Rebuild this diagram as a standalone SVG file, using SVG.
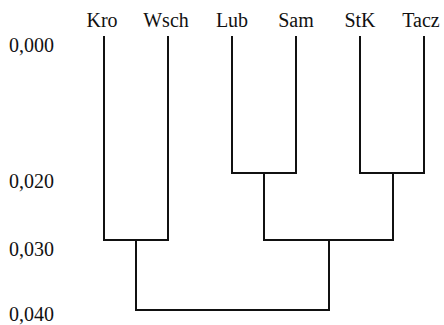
<svg xmlns="http://www.w3.org/2000/svg" width="444" height="325" viewBox="0 0 444 325">
<style>
.t{font-size:20px;fill:#111}
.leaf{text-anchor:middle}
.c{fill:none;stroke:#111;stroke-width:2;stroke-linecap:square;stroke-linejoin:miter}
</style>
<rect width="444" height="325" fill="#fff"/>
<g font-family="'Liberation Serif', 'DejaVu Serif', serif">
<g id="axis">
<text class="t" x="9" y="52">0,000</text>
<text class="t" x="9" y="188">0,020</text>
<text class="t" x="9" y="256">0,030</text>
<text class="t" x="9" y="321">0,040</text>
</g>
<g id="Kro"><text class="t leaf" x="102" y="27">Kro</text></g>
<g id="Wsch"><text class="t leaf" x="166" y="27">Wsch</text></g>
<g id="Lub"><text class="t leaf" x="232" y="27">Lub</text></g>
<g id="Sam"><text class="t leaf" x="296" y="27">Sam</text></g>
<g id="StK"><text class="t leaf" x="360" y="27">StK</text></g>
<g id="Tacz"><text class="t leaf" x="421" y="27">Tacz</text></g>
</g>
<g id="connectors">
<path class="c" d="M104 37V240H168V37"/>
<path class="c" d="M232 37V173H296V37"/>
<path class="c" d="M360 37V173H424V37"/>
<path class="c" d="M264 173V240H393V173"/>
<path class="c" d="M136 240V310H329V240"/>
</g>
</svg>
